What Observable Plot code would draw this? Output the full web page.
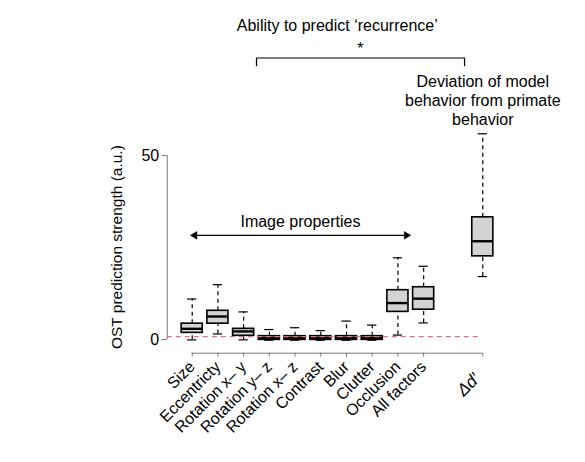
<!DOCTYPE html>
<html>
<head>
<meta charset="utf-8">
<script src="https://cdn.jsdelivr.net/npm/d3@7"></script>
<script src="https://cdn.jsdelivr.net/npm/@observablehq/plot@0.6"></script>
<style>
  html, body { margin: 0; padding: 0; background: white; }
</style>
</head>
<body>
<div id="chart"></div>
<script>
// ---- data ----
const categories = ["Size", "Eccentricty", "Rotation x– y", "Rotation y– z", "Rotation x– z", "Contrast", "Blur", "Clutter", "Occlusion", "All factors", "Δd′"];
const positions  = [1, 2, 3, 4, 5, 6, 7, 8, 9, 10, 12.3];
const mins    = [-0.1, 1.5, -0.1, -0.2, -0.2, -0.2, -0.2, -0.2, 1.2, 4.5, 17.1];
const q1s     = [1.8, 4.3, 1.0, -0.1, -0.1, -0.1, -0.1, -0.1, 7.5, 8.1, 22.6];
const medians = [2.9, 6.25, 2.2, 0.4, 0.4, 0.4, 0.4, 0.4, 9.9, 11.1, 26.7];
const q3s     = [4.3, 7.8, 2.9, 0.9, 0.9, 0.9, 0.9, 0.9, 13.4, 14.2, 33.2];
const maxs    = [11, 14.9, 7.5, 2.7, 3.2, 2.4, 5.0, 3.9, 22.2, 19.9, 55.9];
const yTicks = [0, 50];
const chanceLevel = 0.8;
const yLabel = "OST prediction strength (a.u.)";
const groupLabel = "Image properties";
const bracketTitle = "Ability to predict ‘recurrence’";
const starLabel = "*";
const deviationLabel = "Deviation of model\nbehavior from primate\nbehavior";

const data = categories.map((c, i) => ({
  cat: c, pos: positions[i], min: mins[i], q1: q1s[i], med: medians[i], q3: q3s[i], max: maxs[i]
}));

const halfBox = 0.41, halfCap = 0.18;
const yAxisX = 0.03;      // x-position (data units) of the y-axis line
const xAxisY = -3.72;     // y-position (data units) of the x-axis line
const font = "'Liberation Sans', Arial, Helvetica, sans-serif";
const lastPos = positions[positions.length - 1];
const fs = 16;

const chart = Plot.plot({
  width: 585,
  height: 462,
  marginLeft: 166.7,
  marginRight: 102.7,
  marginTop: 155,
  marginBottom: 109.3,
  style: { fontFamily: font, fontSize: fs + "px", background: "white", color: "black" },
  x: { type: "linear", domain: [1, 12.3], range: [191.7, 482.3] },
  y: { type: "linear", domain: [0, 50], range: [339, 155] },
  marks: [
    // axes
    Plot.ruleX([yAxisX], { y1: 0, y2: 50, stroke: "#7a7a7a", strokeWidth: 1 }),
    Plot.axisY({ ticks: yTicks, tickSize: 5, tickPadding: 3, stroke: "#7a7a7a", fill: "black", label: null, fontSize: fs }),
    Plot.ruleY([xAxisY], { x1: 1, x2: lastPos, stroke: "#7a7a7a", strokeWidth: 1 }),
    Plot.axisX({ ticks: positions,
      tickFormat: (d) => d === lastPos ? "" : categories[positions.indexOf(d)],
      tickSize: 4, tickPadding: 7,
      tickRotate: -45, stroke: "#7a7a7a", fill: "black", label: null, fontSize: fs }),
    Plot.text([categories[categories.length - 1]], { x: lastPos, y: xAxisY, dy: 23, dx: -6, rotate: -45,
      textAnchor: "end", fontStyle: "italic", fontSize: 17, fill: "black" }),
    // whiskers
    Plot.ruleX(data, { x: "pos", y1: "q3", y2: "max", stroke: "black", strokeWidth: 1.2, strokeDasharray: "4,3.5" }),
    Plot.ruleX(data, { x: "pos", y1: "min", y2: "q1", stroke: "black", strokeWidth: 1.2, strokeDasharray: "4,3.5" }),
    Plot.ruleY(data, { y: "max", x1: d => d.pos - halfCap, x2: d => d.pos + halfCap, stroke: "black", strokeWidth: 1.2 }),
    Plot.ruleY(data, { y: "min", x1: d => d.pos - halfCap, x2: d => d.pos + halfCap, stroke: "black", strokeWidth: 1.2 }),
    // boxes
    Plot.rect(data, { x1: d => d.pos - halfBox, x2: d => d.pos + halfBox, y1: "q1", y2: "q3",
      fill: "#d3d3d3", stroke: "black", strokeWidth: 1.6 }),
    Plot.ruleY(data, { y: "med", x1: d => d.pos - halfBox, x2: d => d.pos + halfBox, stroke: "black", strokeWidth: 2.4 }),
    // chance level
    Plot.ruleY([chanceLevel], { x1: yAxisX, x2: 12.15, stroke: "#f07070", strokeWidth: 1.2, strokeDasharray: "5,4" }),
    // y label
    Plot.text([yLabel], { x: -1.94, y: 25.1, rotate: -90, fontSize: 15.5, fill: "black" }),
    // image properties arrow
    Plot.ruleY([28.3], { x1: 1.1, x2: 9.33, stroke: "black", strokeWidth: 1.3 }),
    Plot.dot([1.1], { x: d => d, y: 28.3, symbol: "triangle2", rotate: -90, r: 3.6, fill: "black", stroke: "black", strokeWidth: 0.5 }),
    Plot.dot([9.33], { x: d => d, y: 28.3, symbol: "triangle2", rotate: 90, r: 3.6, fill: "black", stroke: "black", strokeWidth: 0.5 }),
    Plot.text([groupLabel], { x: 5.21, y: 31.9, fontSize: fs, fill: "black" }),
    // bracket
    Plot.line([{ x: 3.5, y: 74.4 }, { x: 3.5, y: 76.5 }, { x: 11.59, y: 76.5 }, { x: 11.59, y: 74.4 }],
      { x: "x", y: "y", stroke: "black", strokeWidth: 1.2 }),
    Plot.text([starLabel], { x: 7.54, y: 79.0, fontSize: fs, fill: "black" }),
    Plot.text([bracketTitle], { x: 6.64, y: 85.3, fontSize: fs, fill: "black" }),
    Plot.text([deviationLabel], { x: 12.3, y: 65.2, fontSize: fs, lineHeight: 1.19, lineAnchor: "middle", fill: "black" })
  ]
});
document.getElementById("chart").appendChild(chart);
</script>
</body>
</html>
